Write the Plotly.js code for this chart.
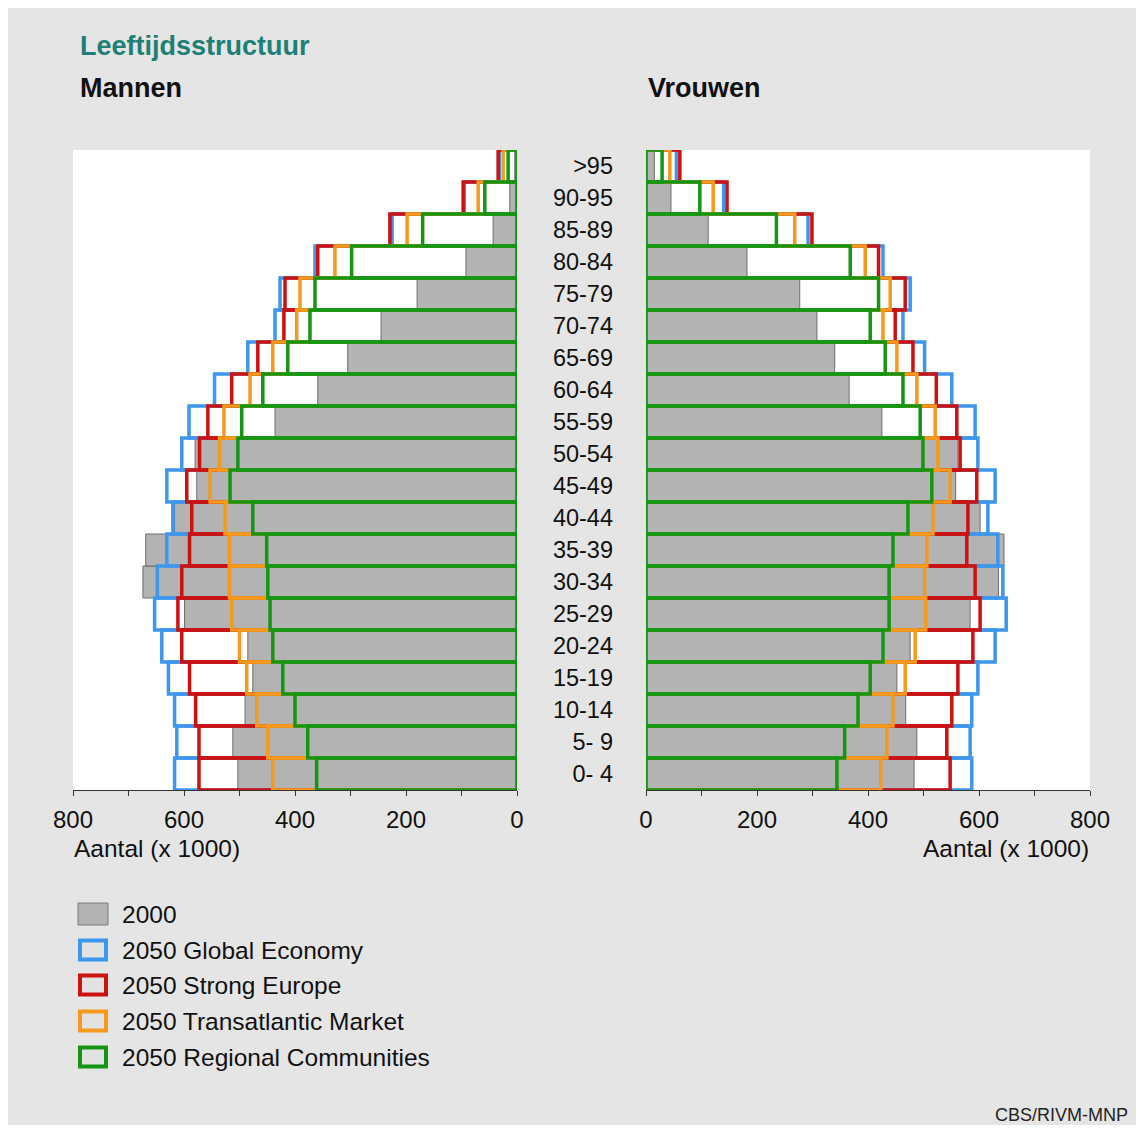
<!DOCTYPE html>
<html>
<head>
<meta charset="utf-8">
<script src="https://cdn.plot.ly/plotly-3.0.1.min.js"></script>
<style>
  html, body { margin: 0; padding: 0; background: #ffffff; }
  #chart { position: absolute; left: 8px; top: 8px; width: 1128px; height: 1117px; }
</style>
</head>
<body>
<div id="chart"></div>
<script>
// Age groups (bottom to top)
const ageGroups = ['0- 4','5- 9','10-14','15-19','20-24','25-29','30-34','35-39','40-44','45-49',
                   '50-54','55-59','60-64','65-69','70-74','75-79','80-84','85-89','90-95','>95'];

// Men (x 1000)
const men2000 = [503,512,490,476,485,599,674,669,617,577,580,436,359,305,245,180,92,43,13,4];
const menGlobalEconomy = [617,613,617,628,640,653,648,631,620,631,604,591,545,485,436,427,364,225,95,32];
const menStrongEurope = [573,573,579,590,604,611,604,590,586,595,572,557,514,467,420,418,359,229,97,34];
const menTransatlantic = [440,449,469,487,500,514,518,518,526,553,536,528,481,440,397,391,328,198,70,25];
const menRegional = [361,377,400,422,440,445,449,451,476,517,503,496,458,413,373,364,298,170,58,16];

// Women (x 1000)
const women2000 = [483,488,468,452,476,584,635,645,602,558,562,425,366,340,308,277,182,112,45,15];
const womenGlobalEconomy = [587,584,587,598,629,649,643,634,616,629,598,593,551,502,463,476,427,292,140,55];
const womenStrongEurope = [548,542,551,562,589,602,593,578,580,596,566,560,523,481,449,467,419,299,146,61];
const womenTransatlantic = [423,434,445,467,485,504,502,506,517,548,526,521,488,452,427,440,395,268,121,43];
const womenRegional = [344,358,382,404,427,438,438,445,472,515,499,494,463,431,404,419,368,235,97,29];

const seriesNames = ['2000','2050 Global Economy','2050 Strong Europe','2050 Transatlantic Market','2050 Regional Communities'];
const tickValues = [0,100,200,300,400,500,600,700,800];
const tickLabels = ['0','','200','','400','','600','','800'];

const W = 1128, H = 1117, OFF = 8;
const px = x => (x - OFF) / W;
const py = y => 1 - (y - OFF) / H;

const FONT = 'Liberation Sans, Arial, Helvetica, sans-serif';
const colors = ['#b3b3b3', '#3d97ee', '#cc1111', '#f59a1c', '#149614'];

function makeTraces(dataSets, xa, ya) {
  return dataSets.map((vals, i) => {
    const isBase = i === 0;
    return {
      type: 'bar', orientation: 'h', name: seriesNames[i],
      x: vals, y: ageGroups, xaxis: xa, yaxis: ya, width: 1,
      showlegend: false, hoverinfo: 'skip',
      marker: isBase
        ? { color: colors[0], line: { color: '#6e6e6e', width: 1 } }
        : { color: 'rgba(0,0,0,0)', line: { color: colors[i], width: 3.5 } }
    };
  });
}

const traces = [
  ...makeTraces([men2000, menGlobalEconomy, menStrongEurope, menTransatlantic, menRegional], 'x', 'y'),
  ...makeTraces([women2000, womenGlobalEconomy, womenStrongEurope, womenTransatlantic, womenRegional], 'x2', 'y2')
];

const xCommon = {
  tickvals: tickValues, ticktext: tickLabels, ticks: 'outside', ticklen: 5, tickcolor: '#333',
  showline: true, linecolor: '#333', linewidth: 1, showgrid: false, zeroline: false,
  ticklabelstandoff: 3,
  tickfont: { family: FONT, size: 24, color: '#111' }, fixedrange: true
};
const yCommon = {
  type: 'category', categoryorder: 'array', categoryarray: ageGroups,
  range: [-0.5, 19.5], showgrid: false, zeroline: false, showline: false, fixedrange: true
};

const legendRows = [914, 950, 985, 1021, 1057];
const shapes = [];
const annotations = [];

legendRows.forEach((yc, i) => {
  const isBase = i === 0;
  shapes.push({
    type: 'rect', xref: 'paper', yref: 'paper',
    x0: px(isBase ? 78 : 80), x1: px(isBase ? 108 : 106), y0: py(yc + (isBase ? 11 : 9.5)), y1: py(yc - (isBase ? 11 : 9.5)),
    fillcolor: isBase ? colors[0] : '#e2e2e2',
    line: { color: isBase ? '#7a7a7a' : colors[i], width: isBase ? 1 : 4 }
  });
  annotations.push({
    xref: 'paper', yref: 'paper', x: px(120), y: py(yc), xanchor: 'left', yanchor: 'middle',
    text: seriesNames[i], showarrow: false, font: { family: FONT, size: 24.5, color: '#111' }
  });
});

annotations.push(
  { xref: 'paper', yref: 'paper', x: px(78), y: py(46), xanchor: 'left', yanchor: 'middle', showarrow: false,
    text: '<b>Leeftijdsstructuur</b>', font: { family: FONT, size: 27, color: '#1d7f76' } },
  { xref: 'paper', yref: 'paper', x: px(78), y: py(88), xanchor: 'left', yanchor: 'middle', showarrow: false,
    text: '<b>Mannen</b>', font: { family: FONT, size: 27, color: '#111' } },
  { xref: 'paper', yref: 'paper', x: px(646), y: py(88), xanchor: 'left', yanchor: 'middle', showarrow: false,
    text: '<b>Vrouwen</b>', font: { family: FONT, size: 27, color: '#111' } },
  { xref: 'paper', yref: 'paper', x: px(72), y: py(848), xanchor: 'left', yanchor: 'middle', showarrow: false,
    text: 'Aantal (x 1000)', font: { family: FONT, size: 24.5, color: '#111' } },
  { xref: 'paper', yref: 'paper', x: px(1091), y: py(848), xanchor: 'right', yanchor: 'middle', showarrow: false,
    text: 'Aantal (x 1000)', font: { family: FONT, size: 24.5, color: '#111' } },
  { xref: 'paper', yref: 'paper', x: px(1130), y: py(1115), xanchor: 'right', yanchor: 'middle', showarrow: false,
    text: 'CBS/RIVM-MNP', font: { family: FONT, size: 18, color: '#222' } }
);

const layout = {
  width: W, height: H,
  margin: { l: 0, r: 0, t: 0, b: 0, pad: 0 },
  paper_bgcolor: '#e5e5e5', plot_bgcolor: '#ffffff',
  barmode: 'overlay', bargap: 0, showlegend: false,
  xaxis: Object.assign({}, xCommon, { domain: [px(73), px(517)], range: [800, 0], anchor: 'y' }),
  yaxis: Object.assign({}, yCommon, { domain: [py(790), py(150)], anchor: 'x', showticklabels: false, ticks: '' }),
  xaxis2: Object.assign({}, xCommon, { domain: [px(646), px(1090)], range: [0, 800], anchor: 'y2' }),
  yaxis2: Object.assign({}, yCommon, { domain: [py(790), py(150)], anchor: 'x2', showticklabels: true, ticks: '',
    ticklabelstandoff: 32, tickfont: { family: FONT, size: 23.5, color: '#111' } }),
  shapes: shapes, annotations: annotations,
  font: { family: FONT }
};

Plotly.newPlot('chart', traces, layout, { displayModeBar: false, staticPlot: true });
</script>
</body>
</html>
